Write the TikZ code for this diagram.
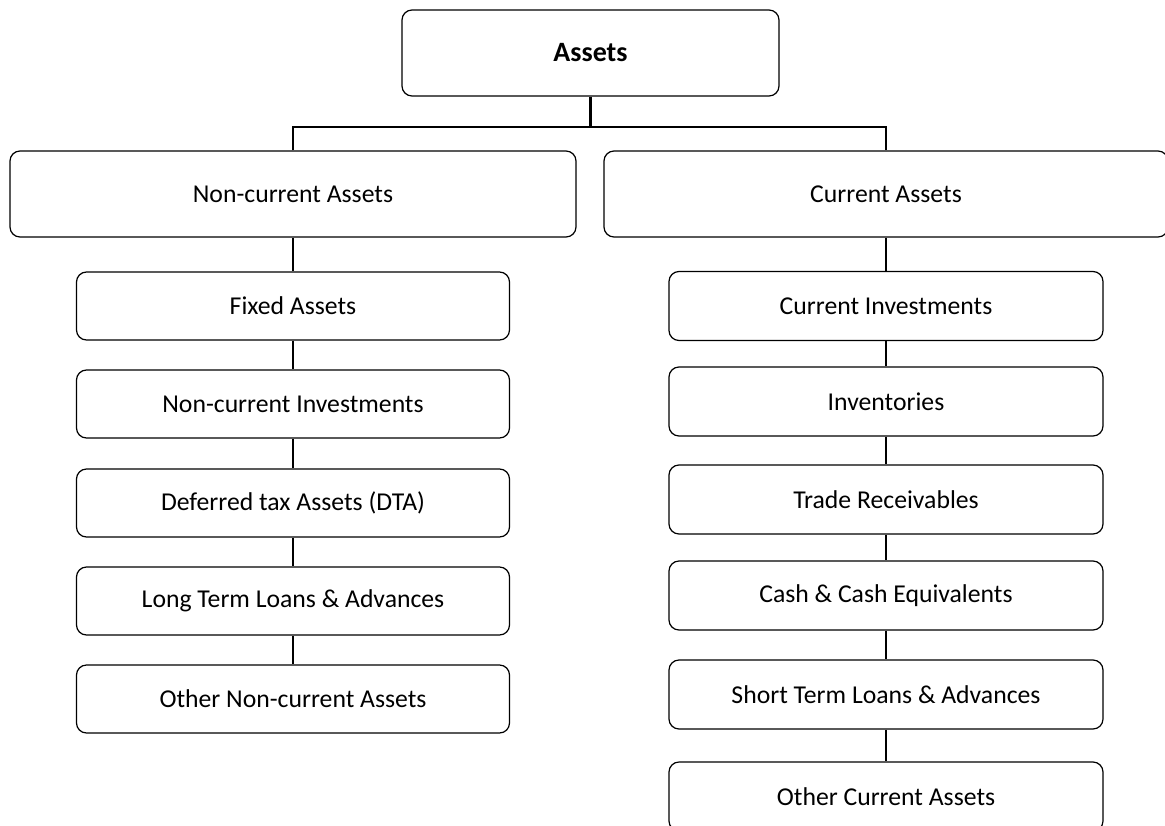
\documentclass[tikz,border=0pt]{standalone}
\usepackage{fontspec}
\setmainfont{Carlito}
\begin{document}
\begin{tikzpicture}[x=1pt,y=-1pt,
  box/.style={draw=black, line width=1.2pt, rounded corners=10pt, fill=white, inner sep=0pt,
    font=\fontsize{25.7}{30}\selectfont},
  big/.style={box, minimum height=86pt},
  small/.style={box, minimum width=433pt, minimum height=68pt},
  conn/.style={draw=black, line width=2.4pt}]
\clip (0,0) rectangle (1165,825);
\useasboundingbox (0,0) rectangle (1165,825);
\node[big, minimum width=377pt, font=\fontsize{28}{32}\selectfont\bfseries] (root) at (590.5,53) {Assets};
\node[big, minimum width=566pt] (nca) at (293,194) {Non-current Assets};
\node[big, minimum width=564pt] (ca) at (886,194) {Current Assets};
\coordinate (bar) at (0,127);
\node[small] (l1) at (293,306) {Fixed Assets};
\node[small] (l2) at (293,404) {Non-current Investments};
\node[small] (l3) at (293,503) {Deferred tax Assets (DTA)};
\node[small] (l4) at (293,601) {Long Term Loans \& Advances};
\node[small] (l5) at (293,699) {Other Non-current Assets};
\node[small, minimum height=69pt, minimum width=434pt] (r1) at (886,306) {Current Investments};
\node[small, minimum height=69pt, minimum width=434pt] (r2) at (886,401.5) {Inventories};
\node[small, minimum height=69pt, minimum width=434pt] (r3) at (886,499.5) {Trade Receivables};
\node[small, minimum height=69pt, minimum width=434pt] (r4) at (886,595.5) {Cash \& Cash Equivalents};
\node[small, minimum height=69pt, minimum width=434pt] (r5) at (886,694.5) {Short Term Loans \& Advances};
\node[small, minimum height=69pt, minimum width=434pt] (r6) at (886,796.5) {Other Current Assets};
\draw[conn] (root.south) -- (root.south |- bar);
\draw[conn] (nca.north) -- (nca.north |- bar) -- (ca.north |- bar) -- (ca.north);
\draw[conn] (nca.south) -- (l1.north);
\draw[conn] (l1.south) -- (l2.north);
\draw[conn] (l2.south) -- (l3.north);
\draw[conn] (l3.south) -- (l4.north);
\draw[conn] (l4.south) -- (l5.north);
\draw[conn] (ca.south) -- (r1.north);
\draw[conn] (r1.south) -- (r2.north);
\draw[conn] (r2.south) -- (r3.north);
\draw[conn] (r3.south) -- (r4.north);
\draw[conn] (r4.south) -- (r5.north);
\draw[conn] (r5.south) -- (r6.north);
\end{tikzpicture}
\end{document}
